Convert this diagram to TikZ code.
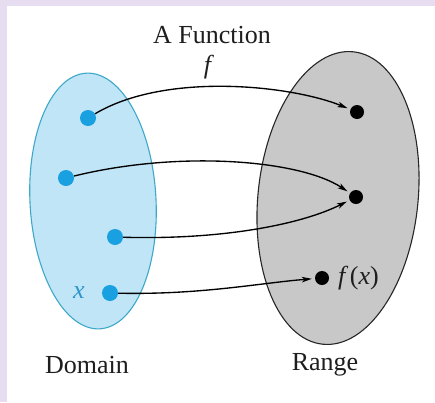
\documentclass[tikz,border=0pt]{standalone}
\usepackage{fontspec}
\setmainfont{Liberation Serif}
\usetikzlibrary{shapes.geometric,arrows.meta}
\definecolor{lav}{RGB}{230,222,240}
\definecolor{domfill}{RGB}{192,229,246}
\definecolor{domline}{RGB}{62,168,200}
\definecolor{bdot}{RGB}{25,160,225}
\definecolor{xlab}{RGB}{45,150,205}
\definecolor{rngfill}{RGB}{200,200,200}
\definecolor{txt}{RGB}{30,30,30}
\begin{document}
\begin{tikzpicture}[x=1pt,y=-1pt,
  setbox/.style={ellipse, inner sep=0pt, line width=1.1pt},
  bluedot/.style={circle, fill=bdot, inner sep=0pt, minimum size=16pt},
  blackdot/.style={circle, fill=black, inner sep=0pt, minimum size=14pt},
  maparrow/.style={line width=1.35pt, -{Stealth[length=10pt,width=5.5pt,inset=2.5pt]}, shorten >=3pt},
  lab/.style={font=\fontsize{26pt}{30pt}\selectfont, text=txt, inner sep=0pt}]
\fill[lav] (0,0) rectangle (435,402);
\fill[white] (7,6) rectangle (435,402);
\useasboundingbox (0,0) rectangle (435,402);
\node[setbox, fill=domfill, draw=domline, minimum width=126pt, minimum height=256pt, rotate=3] (dom) at (93,201) {};
\node[setbox, fill=rngfill, draw=black!85, minimum width=160pt, minimum height=294pt, rotate=-6] (rng) at (338,198) {};
\node[bluedot] (b1) at (88,118) {};
\node[bluedot] (b2) at (66,178) {};
\node[bluedot] (b3) at (115,237) {};
\node[bluedot] (b4) at (110,293) {};
\node[blackdot] (r1) at (357,112) {};
\node[blackdot] (r2) at (356,197) {};
\node[blackdot] (r3) at (322,278) {};
\draw[maparrow] (b1) .. controls (165,72) and (290,85) .. (r1);
\draw[maparrow] (b2) .. controls (180,150) and (300,160) .. (r2);
\draw[maparrow] (b3) .. controls (220,240) and (300,225) .. (r2);
\draw[maparrow] (b4) .. controls (200,295) and (260,283) .. (r3);
\node[lab] (title) at (212,35) {A Function};
\node[lab] (flab) at (209,67) {\textit{f}};
\node[lab, text=xlab] (xl) at (79,293) {\textit{x}};
\node[lab, anchor=west] (fx) at (338,278) {\textit{f}\kern1.5pt(\textit{x})};
\node[lab] (dl) at (87,365) {Domain};
\node[lab] (rl) at (325,365) {Range};
\end{tikzpicture}
\end{document}
